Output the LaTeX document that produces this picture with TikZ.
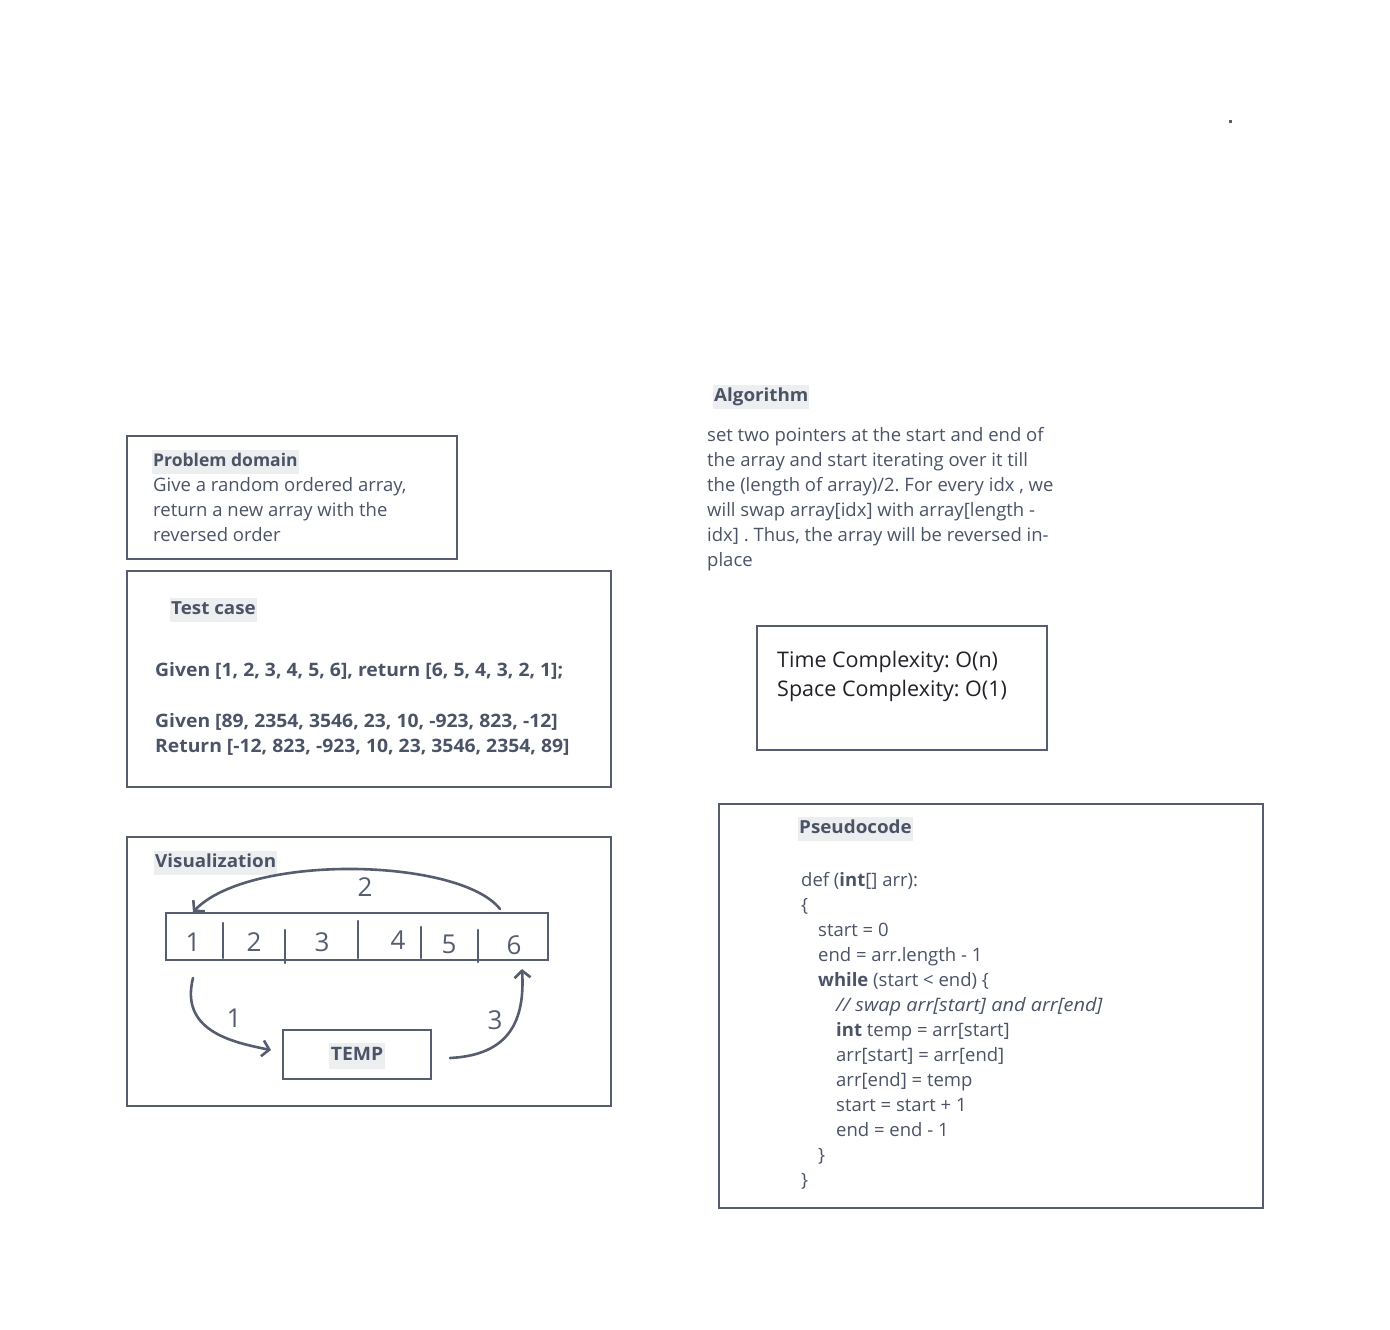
\documentclass[tikz,border=0pt]{standalone}
\usepackage{fontspec}
\setmainfont{Open Sans}
\newfontfamily\widefont{Open Sans}[FakeStretch=1.045]
\newfontfamily\wideital{Open Sans}[FakeStretch=1.08]
\usetikzlibrary{arrows.meta}
\definecolor{ink}{HTML}{4B5366}
\definecolor{edge}{HTML}{565D6F}
\definecolor{hl}{HTML}{EDEEF0}
\definecolor{dark}{HTML}{202228}
\frenchspacing
\begin{document}
\frenchspacing
\begin{tikzpicture}[x=1pt,y=-1pt,
  box/.style={draw=edge, line width=2.6pt},
  txt/.style={anchor=base west, inner sep=0pt, text=ink, font=\fontsize{18.5}{25}\selectfont},
  btxt/.style={txt, font=\widefont\bfseries\fontsize{18.5}{25}\selectfont},
  head/.style={anchor=west, fill=hl, text=ink, inner xsep=1pt, inner ysep=0pt,
               minimum height=24pt, text height=13.5pt, text depth=3pt,
               font=\widefont\bfseries\fontsize{18}{25}\selectfont},
  cx/.style={anchor=base west, inner sep=0pt, text=dark, font=\fontsize{21.5}{29}\selectfont},
  hand/.style={draw=edge, line width=2.6pt, line cap=round, line join=round},
  tip/.style={-{Straight Barb[length=7pt,width=16pt,line width=2.6pt]}},
  digit/.style={text=edge, inner sep=0pt, font=\fontsize{26}{26}\selectfont}
]
\useasboundingbox (0,0) rectangle (1390,1330);
\fill[white] (0,0) rectangle (1390,1330);

% stray dot
\fill[edge] (1228.5,119.5) rectangle (1231.5,122.5);

% ---------- Problem domain ----------
\node[box, minimum width=330pt, minimum height=123pt, inner sep=0pt] (pdbox) at (292,497.5) {};
\node[head, font=\bfseries\fontsize{17.5}{25}\selectfont] (pdhead) at (152,461.5) {Problem domain};
\node[txt] (pd1) at (153,491) {Give a random ordered array,};
\node[txt] (pd2) at (153,516) {return a new array with the};
\node[txt] (pd3) at (153,541) {reversed order};

% ---------- Test case ----------
\node[box, minimum width=484pt, minimum height=216pt, inner sep=0pt] (tcbox) at (369,679) {};
\node[head] (tchead) at (170,609.5) {Test case};
\node[btxt] (tc1) at (155,676) {Given [1, 2, 3, 4, 5, 6], return [6, 5, 4, 3, 2, 1];};
\node[btxt] (tc2) at (155,727) {Given [89, 2354, 3546, 23, 10, -923, 823, -12]};
\node[btxt] (tc3) at (155,752) {Return [-12, 823, -923, 10, 23, 3546, 2354, 89]};

% ---------- Visualization ----------
\node[box, minimum width=484pt, minimum height=269pt, inner sep=0pt] (vzbox) at (369,971.5) {};
\node[head] (vzhead) at (154,862.5) {Visualization};

\node[box, minimum width=382pt, minimum height=47pt, inner sep=0pt] (arr) at (357,936.5) {};
\draw[hand] (223,923) -- (223,958);
\draw[hand] (285,930) -- (285,963);
\draw[hand] (358,921) -- (358,958);
\draw[hand] (421,927) -- (421,958);
\draw[hand] (478,930) -- (478,962);
\node[digit] (d1) at (193,942) {1};
\node[digit] (d2) at (254,942) {2};
\node[digit] (d3) at (322,942) {3};
\node[digit] (d4) at (398,940) {4};
\node[digit] (d5) at (449,944) {5};
\node[digit] (d6) at (514,945) {6};

\node[box, minimum width=148pt, minimum height=49pt, inner sep=0pt] (temp) at (357,1054.5) {};
\node[fill=hl, text=ink, inner xsep=2pt, inner ysep=0pt, minimum height=26pt,
      text height=13.5pt, text depth=3pt, font=\widefont\bfseries\fontsize{18.5}{25}\selectfont] (templbl) at (357,1055.5) {TEMP};

\coordinate (c6top) at (500,909);
\coordinate (c1top) at (193,912);
\coordinate (c1bot) at (193,978);
\coordinate (tempin) at (271,1050);
\coordinate (tempout) at (450,1058);
\coordinate (c6bot) at (522,969);

\draw[hand, tip] (c6top) .. controls (460,858) and (250,853) .. (c1top);
\draw[hand, tip] (c1bot) .. controls (180,1030) and (230,1042) .. (tempin);
\draw[hand, tip] (tempout) .. controls (510,1055) and (525,1020) .. (c6bot);

\node[digit] (l2) at (365,887) {2};
\node[digit] (l1) at (234,1018) {1};
\node[digit] (l3) at (495,1020) {3};

% ---------- Algorithm ----------
\node[head] (alhead) at (713,396.5) {Algorithm};
\node[txt] (al1) at (707,441) {set two pointers at the start and end of};
\node[txt] (al2) at (707,466) {the array and start iterating over it till};
\node[txt] (al3) at (707,491) {the (length of array)/2. For every idx , we};
\node[txt] (al4) at (707,516) {will swap array[idx] with array[length -};
\node[txt] (al5) at (707,541) {idx] . Thus, the array will be reversed in-};
\node[txt] (al6) at (707,566) {place};

% ---------- Complexity ----------
\node[box, minimum width=290pt, minimum height=124pt, inner sep=0pt] (cxbox) at (902,688) {};
\node[cx] (cx1) at (777,667) {Time Complexity: O(n)};
\node[cx] (cx2) at (777,696) {Space Complexity: O(1)};

% ---------- Pseudocode ----------
\node[box, minimum width=544pt, minimum height=404pt, inner sep=0pt] (pcbox) at (991,1006) {};
\node[head] (pchead) at (798,828.5) {Pseudocode};
\node[txt] (p1) at (801,886) {def (\textbf{int}[] arr):};
\node[txt] (p2) at (801,911) {\{};
\node[txt] (p3) at (818,936) {start = 0};
\node[txt] (p4) at (818,961) {end = arr.length - 1};
\node[txt] (p5) at (818,986) {\textbf{while} (start < end) \{};
\node[txt] (p6) at (836,1011) {\wideital\itshape // swap arr[start] and arr[end]};
\node[txt] (p7) at (836,1036) {\textbf{int} temp = arr[start]};
\node[txt] (p8) at (836,1061) {arr[start] = arr[end]};
\node[txt] (p9) at (836,1086) {arr[end] = temp};
\node[txt] (p10) at (836,1111) {start = start + 1};
\node[txt] (p11) at (836,1136) {end = end - 1};
\node[txt] (p12) at (818,1161) {\}};
\node[txt] (p13) at (801,1186) {\}};
\end{tikzpicture}
\end{document}
